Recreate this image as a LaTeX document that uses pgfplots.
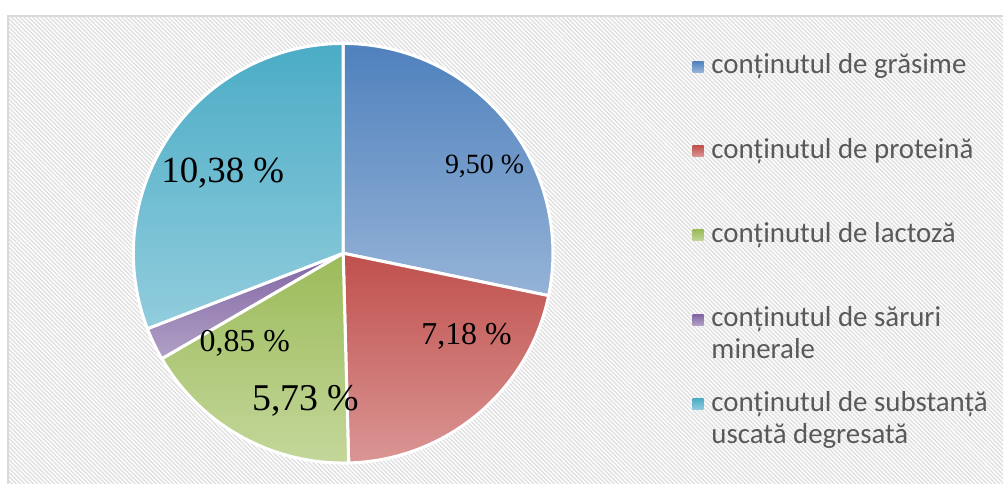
\documentclass[border=0pt]{standalone}
\usepackage{fontspec}
\setmainfont{Liberation Serif}
\newfontfamily\legfont{Carlito}
\usepackage{pgfplots}
\usepackage{pgfplotstable}
\pgfplotsset{compat=1.18}
\usetikzlibrary{patterns.meta}

\definecolor{t1}{RGB}{79,129,189}\definecolor{b1}{RGB}{149,179,215}
\definecolor{t2}{RGB}{192,80,77}\definecolor{b2}{RGB}{218,150,148}
\definecolor{t3}{RGB}{155,187,89}\definecolor{b3}{RGB}{196,215,155}
\definecolor{t4}{RGB}{128,100,162}\definecolor{b4}{RGB}{178,161,199}
\definecolor{t5}{RGB}{75,172,198}\definecolor{b5}{RGB}{146,205,221}
\definecolor{legtext}{RGB}{89,89,89}
\definecolor{stripe}{RGB}{224,224,224}
\definecolor{framecol}{RGB}{217,217,217}

% value, label position (relative to pie centre), label size
\pgfplotstableread{
value lx ly fs
9.50 141.5 79.5 28
7.18 123.5 -91.5 32
5.73 -37.5 -157.5 38
0.85 -98.5 -98.5 32
10.38 -120.5 70.5 37
}\piedata

% start/end angles of the slices, clockwise from the top
\xdef\total{0}%
\pgfplotstableforeachcolumnelement{value}\of\piedata\as\val{%
  \pgfmathsetmacro\tmpsum{\total+\val}\xdef\total{\tmpsum}}%
\xdef\cur{90}%
\pgfplotstableforeachcolumnelement{value}\of\piedata\as\val{%
  \expandafter\xdef\csname sa\pgfplotstablerow\endcsname{\cur}%
  \pgfmathsetmacro\nxt{\cur-\val/\total*360}%
  \expandafter\xdef\csname ea\pgfplotstablerow\endcsname{\nxt}%
  \xdef\cur{\nxt}%
  \expandafter\xdef\csname v\pgfplotstablerow\endcsname{\val}}%
\pgfplotstableforeachcolumnelement{lx}\of\piedata\as\val{%
  \expandafter\xdef\csname lx\pgfplotstablerow\endcsname{\val}}%
\pgfplotstableforeachcolumnelement{ly}\of\piedata\as\val{%
  \expandafter\xdef\csname ly\pgfplotstablerow\endcsname{\val}}%
\pgfplotstableforeachcolumnelement{fs}\of\piedata\as\val{%
  \expandafter\xdef\csname fs\pgfplotstablerow\endcsname{\val}}%

\begin{document}
\begin{tikzpicture}
\begin{axis}[
    x=1bp, y=1bp,
    scale only axis,
    hide axis,
    xmin=-343.5, xmax=660.5,
    ymin=-230.5, ymax=253.5,
    clip=false,
    legend cell align=left,
    legend image code/.code={
        \path[#1, draw=none] (0bp,-5.5bp) rectangle (11bp,5.5bp);
        \path[draw=none, fill=none, shade=none] (0bp,0bp) -- (19bp,0bp);
    },
    legend style={
        at={(axis cs:349.5,202)}, anchor=north west,
        draw=none, fill=none, inner sep=0pt, row sep=54.5bp,
        font=\legfont\fontsize{29}{32}\selectfont, text=legtext,
        nodes={inner sep=0pt, text height=22bp, text depth=8bp},
    },
]
% background
\fill[white] (axis cs:-343.5,-230.5) rectangle (axis cs:660.5,253.5);
\fill[pattern={Lines[angle=-45,distance=3bp,line width=1.4bp]}, pattern color=stripe]
    (axis cs:-335.5,-230.5) rectangle (axis cs:660.5,237.5);
\draw[framecol, line width=2bp] (axis cs:-335.5,-230.5) -- (axis cs:-335.5,237.5) -- (axis cs:660.5,237.5);

% slices
\pgfplotsinvokeforeach{0,...,4}{
    \path[top color=t\the\numexpr#1+1\relax, bottom color=b\the\numexpr#1+1\relax, draw=white, line width=3bp]
        (axis cs:0,0) -- ++(\csname sa#1\endcsname:210bp)
        arc[start angle=\csname sa#1\endcsname, end angle=\csname ea#1\endcsname, radius=210bp] -- cycle;
}
\pgfplotsinvokeforeach{0,...,4}{
    \node[anchor=base, font=\fontsize{\csname fs#1\endcsname}{40}\selectfont]
        at (axis cs:\csname lx#1\endcsname,\csname ly#1\endcsname)
        {\pgfmathprintnumber[fixed, fixed zerofill, precision=2, use comma, assume math mode=true]{\csname v#1\endcsname}~\%};
}

\addlegendimage{top color=t1, bottom color=b1}
\addlegendentry{conținutul de grăsime}
\addlegendimage{top color=t2, bottom color=b2}
\addlegendentry{conținutul de proteină}
\addlegendimage{top color=t3, bottom color=b3}
\addlegendentry{conținutul de lactoză}
\addlegendimage{top color=t4, bottom color=b4}
\addlegendentry{\smash{\vtop{\hbox{conținutul de săruri}\hbox{minerale}}}}
\addlegendimage{top color=t5, bottom color=b5}
\addlegendentry{\smash{\vtop{\hbox{conținutul de substanță}\hbox{uscată degresată}}}}
\end{axis}
\end{tikzpicture}
\end{document}
